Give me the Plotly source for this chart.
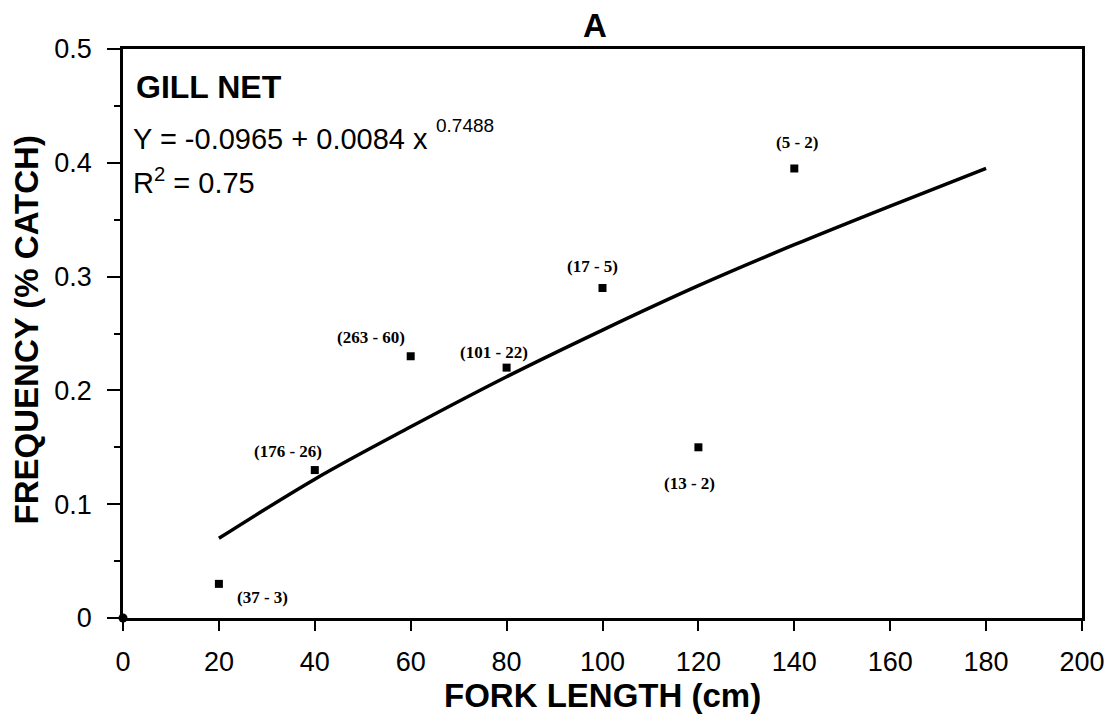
import plotly.graph_objects as go

# Observed points
fork_length = [20, 40, 60, 80, 100, 120, 140]
frequency = [0.03, 0.13, 0.23, 0.22, 0.29, 0.15, 0.395]
point_labels = ["(37 - 3)", "(176 - 26)", "(263 - 60)", "(101 - 22)", "(17 - 5)", "(13 - 2)", "(5 - 2)"]
label_dx = [44, -27, -40, -13, -10, -9, 3]
label_dy = [-14, 19, 19, 15, 21, -36, 26]

# Fitted curve, values
curve_x = [20, 40, 60, 80, 100, 120, 140, 160, 180]
curve_y = [0.070, 0.122, 0.168, 0.212, 0.253, 0.292, 0.328, 0.362, 0.395]

origin_x = [0]
origin_y = [0]

x_ticks = [0, 20, 40, 60, 80, 100, 120, 140, 160, 180, 200]
y_ticks = [0, 0.1, 0.2, 0.3, 0.4, 0.5]
y_tick_text = ["0", "0.1", "0.2", "0.3", "0.4", "0.5"]

SANS = "Liberation Sans, Arial, sans-serif"
SERIF = "Liberation Serif, Times New Roman, serif"

fig = go.Figure()
fig.add_trace(go.Scatter(x=curve_x, y=curve_y, mode="lines",
                         line=dict(color="black", width=3.5, shape="spline"),
                         showlegend=False, hoverinfo="skip"))
fig.add_trace(go.Scatter(x=fork_length, y=frequency, mode="markers",
                         marker=dict(symbol="square", size=8, color="black"),
                         showlegend=False, cliponaxis=False))
fig.add_trace(go.Scatter(x=origin_x, y=origin_y, mode="markers",
                         marker=dict(symbol="circle", size=9, color="black"),
                         showlegend=False, cliponaxis=False))

annotations = []
for x, y, t, dx, dy in zip(fork_length, frequency, point_labels, label_dx, label_dy):
    annotations.append(dict(x=x, y=y, xref="x", yref="y", text="<b>" + t + "</b>",
                            showarrow=False, xshift=dx, yshift=dy,
                            font=dict(family=SERIF, size=17, color="black")))

W0, W = 123, 963
T0, H = 618, 569

def px(xp):
    return (xp - W0) / W

def py(yp):
    return (T0 - yp) / H

annotations += [
    dict(x=px(134), y=py(86.5), xref="paper", yref="paper", xanchor="left", yanchor="middle",
         text="<b>GILL NET</b>", showarrow=False, font=dict(family=SANS, size=32, color="black")),
    dict(x=px(131), y=py(139), xref="paper", yref="paper", xanchor="left", yanchor="middle",
         text="Y = -0.0965 + 0.0084 x", showarrow=False, font=dict(family=SANS, size=29, color="black")),
    dict(x=px(435), y=py(125), xref="paper", yref="paper", xanchor="left", yanchor="middle",
         text="0.7488", showarrow=False, font=dict(family=SANS, size=19, color="black")),
    dict(x=px(131), y=py(181), xref="paper", yref="paper", xanchor="left", yanchor="middle",
         text="R<sup>2</sup> = 0.75", showarrow=False, font=dict(family=SANS, size=29, color="black")),
    dict(x=px(597), y=py(25), xref="paper", yref="paper", xanchor="center", yanchor="middle",
         text="<b>A</b>", showarrow=False, font=dict(family=SANS, size=33, color="black")),
    dict(x=px(605), y=py(695), xref="paper", yref="paper", xanchor="center", yanchor="middle",
         text="<b>FORK LENGTH (cm)</b>", showarrow=False, font=dict(family=SANS, size=33, color="black")),
    dict(x=px(26), y=py(330), xref="paper", yref="paper", xanchor="center", yanchor="middle",
         text="<b>FREQUENCY (% CATCH)</b>", textangle=-90, showarrow=False,
         font=dict(family=SANS, size=33, color="black")),
]

fig.update_layout(
    width=1117, height=719,
    margin=dict(l=123, r=31, t=49, b=101),
    paper_bgcolor="white", plot_bgcolor="white",
    annotations=annotations,
    font=dict(family=SANS, color="black"),
)
fig.update_xaxes(range=[0, 200], tickvals=x_ticks, ticks="outside", ticklen=10, tickwidth=2,
                 tickcolor="black", showline=True, linewidth=2.5, linecolor="black", mirror=True,
                 showgrid=False, zeroline=False, ticklabelstandoff=8,
                 tickfont=dict(family=SANS, size=27, color="black"))
fig.update_yaxes(range=[0, 0.5], tickvals=y_ticks, ticktext=y_tick_text, ticks="outside",
                 ticklen=13, tickwidth=2, tickcolor="black", showline=True, linewidth=2.5,
                 linecolor="black", mirror=True, showgrid=False, zeroline=False,
                 ticklabelstandoff=10,
                 minor=dict(dtick=0.05, ticks="outside", ticklen=6, tickwidth=1.5, tickcolor="black"),
                 tickfont=dict(family=SANS, size=27, color="black"))

fig.write_html("out.html")
